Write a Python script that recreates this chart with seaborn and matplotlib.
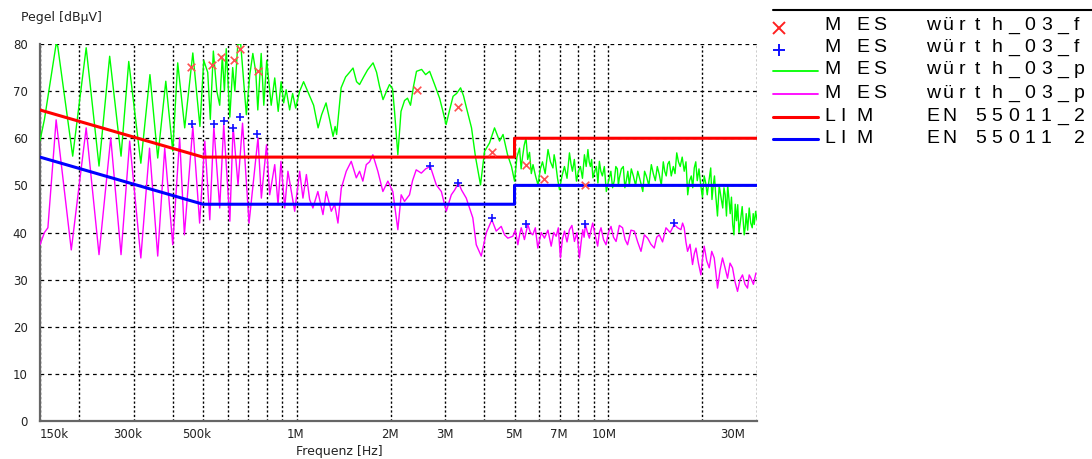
import matplotlib
matplotlib.use("Agg")
import matplotlib.pyplot as plt
import matplotlib.transforms as mtransforms
import seaborn as sns

# measured trace (peak) - frequency in MHz, level in dBuV
GREEN_MHZ = [0.150, 0.155, 0.169, 0.171, 0.191, 0.211, 0.232, 0.251, 0.273, 0.289,
             0.316, 0.338, 0.358, 0.380, 0.400, 0.415, 0.437, 0.464, 0.489, 0.503,
             0.518, 0.528, 0.540, 0.554, 0.566, 0.577, 0.586, 0.594, 0.610, 0.623,
             0.633, 0.647, 0.661, 0.689, 0.707, 0.723, 0.739, 0.750, 0.769, 0.784,
             0.801, 0.828, 0.850, 0.872, 0.891, 0.908, 0.925, 0.949, 0.970, 0.992,
             1.022, 1.052, 1.100, 1.133, 1.171, 1.202, 1.242, 1.275, 1.308, 1.328,
             1.343, 1.388, 1.435, 1.478, 1.516, 1.556, 1.591, 1.639, 1.688, 1.758,
             1.804, 1.844, 1.892, 1.942, 1.985, 2.030, 2.060, 2.111, 2.161, 2.218,
             2.267, 2.318, 2.370, 2.423, 2.517, 2.592, 2.670, 2.770, 2.874, 2.938,
             3.016, 3.095, 3.175, 3.259, 3.356, 3.430, 3.507, 3.639, 3.748, 3.889,
             4.006, 4.156, 4.313, 4.476, 4.593, 4.749, 4.890,
             5.000, 5.09, 5.188, 5.25, 5.304, 5.37, 5.443, 5.51, 5.586, 5.66,
             5.732, 5.84, 5.947, 6.05, 6.148, 6.27, 6.403, 6.52, 6.642, 6.70,
             6.766, 6.87, 6.969, 7.10, 7.231, 7.37, 7.503, 7.59, 7.670, 7.78,
             7.900, 8.02, 8.137, 8.26, 8.381, 8.49, 8.600, 8.68, 8.758, 8.84,
             8.921, 9.04, 9.154, 9.26, 9.359, 9.46, 9.569, 9.71, 9.853, 10.02,
             10.19, 10.32, 10.45, 10.57, 10.69, 10.77, 10.85, 11.01, 11.17, 11.30,
             11.42, 11.55, 11.68, 11.85, 12.03, 12.23, 12.43, 12.66, 12.90, 13.07,
             13.24, 13.49, 13.74, 13.94, 14.15, 14.36, 14.57, 14.79, 15.01, 15.17,
             15.34, 15.51, 15.69, 15.92, 16.16, 16.37, 16.58, 16.79, 17.01, 17.26,
             17.52, 17.75, 17.98, 18.22, 18.46, 18.66, 18.87, 19.08, 19.29, 19.54,
             19.79, 20.05, 20.31, 20.54, 20.77, 21.04, 21.31, 21.51, 21.71, 21.91,
             22.11, 22.40, 22.69, 22.99, 23.29, 23.50, 23.72, 23.94, 24.16, 24.38,
             24.61, 24.84, 25.07, 25.30, 25.54, 25.78, 26.02, 26.26, 26.50, 26.89,
             27.29, 27.49, 27.70, 28.00, 28.32, 28.64, 28.96, 29.17, 29.39, 29.70,
             30.00]
GREEN_DB = [59.5, 64.0, 80.0, 79.5, 56.2, 79.2, 54.1, 77.4, 56.2, 76.3,
            54.7, 73.5, 55.8, 72.1, 57.3, 76.0, 62.2, 78.1, 62.5, 76.5,
            74.0, 64.0, 78.5, 70.0, 67.0, 77.5, 70.0, 79.0, 64.5, 75.0,
            70.0, 80.0, 80.0, 65.0, 73.5, 78.0, 74.0, 66.0, 78.0, 67.0,
            76.5, 67.0, 72.8, 65.7, 72.0, 67.5, 70.3, 66.0, 69.5, 66.4,
            70.0, 72.0, 69.0, 67.0, 62.2, 65.0, 67.5, 64.0, 60.4, 62.5,
            60.8, 70.7, 73.0, 74.0, 74.9, 72.0, 71.4, 73.0, 74.5, 76.0,
            74.0, 71.0, 68.2, 70.0, 71.4, 70.5, 65.7, 56.5, 65.7, 68.0,
            68.5, 67.0, 71.0, 74.2, 74.6, 73.5, 74.2, 71.4, 68.5, 66.0,
            62.9, 66.0, 68.9, 69.5, 70.7, 69.0, 66.4, 62.2, 56.0, 50.1,
            57.2, 59.0, 62.2, 59.4, 60.8, 56.5, 54.0,
            50.9, 56.0, 57.9, 53.5, 56.0, 58.5, 60.1, 55.5, 57.0, 52.5,
            54.4, 52.0, 50.1, 53.5, 55.0, 52.5, 57.6, 55.0, 53.7, 56.5,
            55.0, 51.5, 49.1, 52.0, 54.0, 51.5, 56.9, 54.5, 53.0, 55.5,
            50.9, 53.0, 54.0, 51.5, 56.5, 54.0, 57.6, 55.0, 54.0, 55.5,
            51.6, 53.0, 54.0, 50.5, 55.1, 53.0, 52.0, 54.0, 48.7, 51.0,
            53.0, 49.5, 51.0, 54.0, 53.5, 50.0, 51.6, 53.5, 54.0, 49.5,
            51.0, 53.0, 50.1, 53.5, 52.0, 50.0, 53.0, 51.0, 48.7, 53.0,
            52.0, 50.0, 54.4, 52.5, 51.0, 54.0, 52.3, 50.0, 55.0, 53.0,
            52.0, 54.5, 55.1, 52.0, 54.0, 52.5, 56.9, 55.0, 54.0, 56.0,
            53.0, 55.0, 48.0, 51.0, 52.0, 49.5, 53.7, 55.0, 51.0, 53.5,
            50.1, 47.5, 52.0, 50.5, 48.0, 51.0, 53.7, 47.0, 50.0, 52.0,
            48.0, 43.5, 50.0, 47.5, 45.2, 49.5, 48.0, 43.5, 50.1, 47.0,
            44.0, 47.5, 41.7, 39.5, 46.0, 42.5, 45.9, 40.0, 42.0, 45.5,
            39.5, 41.0, 44.0, 40.5, 45.2, 42.0, 41.0, 44.0, 41.7, 44.5,
            42.7]

# measured trace (average)
MAGENTA_MHZ = [0.150, 0.155, 0.159, 0.169, 0.189, 0.211, 0.232, 0.253, 0.273, 0.291,
               0.316, 0.337, 0.358, 0.377, 0.400, 0.421, 0.436, 0.464, 0.488, 0.507,
               0.526, 0.542, 0.566, 0.583, 0.610, 0.625, 0.648, 0.670, 0.703, 0.751,
               0.770, 0.800, 0.819, 0.850, 0.871, 0.890, 0.915, 0.937, 0.985, 1.022,
               1.047, 1.074, 1.100, 1.127, 1.169, 1.214, 1.244, 1.291, 1.323, 1.356,
               1.390, 1.442, 1.496, 1.553, 1.591, 1.630, 1.672, 1.713, 1.755, 1.821,
               1.890, 1.961, 2.034, 2.111, 2.164, 2.218, 2.301, 2.353, 2.418, 2.511,
               2.592, 2.684, 2.805, 2.911, 3.020, 3.134, 3.211, 3.307, 3.381, 3.500,
               3.674, 3.768, 3.910, 4.056, 4.228, 4.367, 4.532, 4.644, 4.759, 4.937,
               5.03, 5.124, 5.19, 5.254, 5.38, 5.516, 5.62, 5.723, 5.83, 5.938,
               6.09, 6.239, 6.40, 6.555, 6.68, 6.801, 6.91, 7.020, 7.12, 7.231,
               7.37, 7.503, 7.64, 7.785, 7.93, 8.077, 8.18, 8.276, 8.36, 8.443,
               8.57, 8.693, 8.80, 8.907, 9.07, 9.242, 9.36, 9.475, 9.65, 9.832,
               10.01, 10.20, 10.39, 10.59, 10.85, 11.11, 11.32, 11.53, 11.82, 12.12,
               12.42, 12.73, 13.05, 13.37, 13.70, 14.04, 14.30, 14.57, 14.93, 15.31,
               15.79, 16.28, 16.69, 17.10, 17.31, 17.52, 17.74, 17.96, 18.29, 18.63,
               18.87, 19.11, 19.46, 19.82, 20.06, 20.31, 20.69, 21.08, 21.47, 21.87,
               22.14, 22.41, 22.83, 23.25, 23.69, 24.13, 24.58, 25.04, 25.51, 25.98,
               26.46, 26.95, 27.46, 27.97, 28.32, 28.68, 29.22, 29.76]
MAGENTA_DB = [37.4, 40.0, 41.0, 63.9, 36.3, 62.2, 35.3, 60.1, 35.3, 59.4,
              34.6, 57.9, 35.0, 57.9, 37.4, 60.1, 39.5, 62.5, 42.0, 59.4,
              42.7, 62.5, 45.2, 62.9, 42.4, 62.5, 50.1, 63.2, 42.0, 60.1,
              47.3, 58.6, 48.0, 54.4, 45.9, 55.1, 45.2, 53.0, 44.5, 53.0,
              47.3, 52.3, 47.0, 45.2, 48.7, 43.8, 48.7, 44.5, 46.0, 42.0,
              49.4, 53.0, 55.1, 51.6, 53.0, 50.9, 54.4, 55.0, 56.5, 53.0,
              48.7, 50.9, 48.7, 40.6, 48.0, 46.6, 48.0, 51.0, 53.3, 52.6,
              53.5, 54.0, 50.1, 48.7, 44.5, 48.0, 49.0, 50.5, 49.0, 47.3,
              43.1, 37.4, 35.0, 39.9, 42.7, 40.3, 41.3, 39.5, 38.8, 39.2,
              40.5, 37.4, 39.5, 41.0, 38.5, 41.7, 40.0, 39.5, 41.0, 36.7,
              40.0, 38.8, 40.5, 37.1, 40.0, 39.2, 41.0, 34.6, 38.5, 40.3,
              38.0, 40.6, 41.5, 38.1, 40.0, 34.6, 38.0, 40.6, 39.0, 41.7,
              40.0, 38.8, 40.5, 42.0, 39.5, 37.1, 40.0, 41.0, 38.5, 37.4,
              40.0, 41.3, 39.0, 38.1, 41.5, 41.0, 38.5, 37.4, 40.5, 40.3,
              38.0, 36.0, 39.5, 38.8, 37.5, 36.7, 39.0, 39.5, 38.0, 41.0,
              40.0, 41.7, 41.0, 40.6, 42.0, 41.0, 38.0, 36.0, 37.5, 33.2,
              35.5, 36.7, 33.5, 31.0, 34.5, 37.1, 34.0, 32.5, 36.0, 34.6,
              31.5, 28.2, 32.0, 34.6, 32.5, 30.3, 33.5, 32.5, 29.5, 27.5,
              30.0, 31.0, 29.0, 28.2, 31.0, 30.3, 29.0, 31.4]

# final measurement points
FINAL_QP_MHZ = [0.457, 0.535, 0.573, 0.628, 0.658, 0.752, 2.44, 3.29, 4.23, 5.44, 6.23, 8.43]
FINAL_QP_DB = [75.1, 75.6, 77.3, 76.5, 78.9, 74.3, 70.2, 66.7, 57.0, 54.4, 51.4, 50.0]
FINAL_AV_MHZ = [0.462, 0.541, 0.583, 0.625, 0.660, 0.748, 2.67, 3.29, 4.23, 5.44, 8.40, 16.3]
FINAL_AV_DB = [63.0, 63.0, 63.7, 62.1, 64.5, 60.8, 54.1, 50.6, 43.1, 41.8, 41.9, 42.0]

# limit lines
LIM_MHZ = [0.15, 0.5, 5, 5, 30]
LIM_QP_DB = [66, 56, 56, 60, 60]
LIM_AV_DB = [56, 46, 46, 50, 50]

GRID_MHZ = [0.15, 0.2, 0.3, 0.4, 0.5, 0.6, 0.7, 0.8, 0.9, 1, 2, 3, 4, 5, 6, 7, 8, 9, 10, 20, 30]
TICK_TEXT = {0.15: "150k", 0.3: "300k", 0.5: "500k", 1: "1M", 2: "2M", 3: "3M",
             5: "5M", 7: "7M", 10: "10M", 30: "30M"}
Y_TICKS = [0, 10, 20, 30, 40, 50, 60, 70, 80]

LEGEND_ROWS = [("x", "M ES", "würth_03_f"),
               ("+", "M ES", "würth_03_f"),
               ("green", "M ES", "würth_03_p"),
               ("magenta", "M ES", "würth_03_p"),
               ("red", "LIM", "EN 55011_2"),
               ("blue", "LIM", "EN 55011_2")]


def spaced(ax, x, y, s, size=14):
    # legend text is drawn with a fixed advance per character
    for i, ch in enumerate(s):
        ax.text(x + i * 16.4, y, ch, fontsize=size, ha="left", va="center",
                color="black", clip_on=True, family=["Liberation Sans", "DejaVu Sans"])


def main():
    sns.set_style("white")
    plt.rcParams['font.family'] = ['DejaVu Sans']
    W, H = 1092, 459
    fig = plt.figure(figsize=(W / 100, H / 100), dpi=100)
    ax = fig.add_axes([40 / W, 1 - 421 / H, (757 - 40) / W, (421 - 44) / H])
    ax.set_xscale("log")

    sns.lineplot(x=GREEN_MHZ, y=GREEN_DB, ax=ax, color="#00ff00", lw=1.0,
                 sort=False, estimator=None, zorder=3)
    sns.lineplot(x=MAGENTA_MHZ, y=MAGENTA_DB, ax=ax, color="#ff00ff", lw=1.0,
                 sort=False, estimator=None, zorder=3)
    sns.lineplot(x=LIM_MHZ, y=LIM_QP_DB, ax=ax, color="#ff0000", lw=2.2,
                 sort=False, estimator=None, zorder=4)
    sns.lineplot(x=LIM_MHZ, y=LIM_AV_DB, ax=ax, color="#0000ff", lw=2.2,
                 sort=False, estimator=None, zorder=4)
    sns.scatterplot(x=FINAL_QP_MHZ, y=FINAL_QP_DB, ax=ax, marker="x", color="#ff5050",
                    s=30, linewidth=1.2, zorder=5)
    sns.scatterplot(x=FINAL_AV_MHZ, y=FINAL_AV_DB, ax=ax, marker="+", color="#1010ff",
                    s=30, linewidth=1.2, zorder=5)

    ax.set_xlim(0.15, 30)
    ax.set_ylim(0, 80)
    ax.set_xticks(GRID_MHZ)
    ax.set_xticklabels([TICK_TEXT.get(f, "") for f in GRID_MHZ])
    ax.xaxis.set_minor_locator(matplotlib.ticker.NullLocator())
    ax.set_yticks(Y_TICKS)
    ax.set_yticklabels([str(v) for v in Y_TICKS])
    ax.tick_params(axis="x", length=0, pad=5, labelsize=8.5, colors="#222222")
    ax.tick_params(axis="y", length=0, pad=9, labelsize=8.5, colors="#222222")
    ax.set_xlabel("")
    ax.set_ylabel("")

    # tick label placement like the original plot
    for f, lab in zip(GRID_MHZ, ax.get_xticklabels()):
        txt = TICK_TEXT.get(f, "")
        if txt == "150k":
            lab.set_ha("left")
            dx = 0
        elif txt == "30M":
            lab.set_ha("right")
            dx = -12
        else:
            lab.set_ha("right")
            dx = 8
        lab.set_transform(lab.get_transform() +
                          mtransforms.ScaledTranslation(dx / 100, 0, fig.dpi_scale_trans))

    ax.set_axisbelow(True)
    ax.grid(axis="x", color="black", linestyle=(0, (1.6, 1.6)), lw=1.0)
    ax.grid(axis="y", color="black", linestyle=(0, (3, 3)), lw=0.9)
    for side in ["top", "right"]:
        ax.spines[side].set_visible(False)
    for side in ["left", "bottom"]:
        ax.spines[side].set_color("#666666")
        ax.spines[side].set_linewidth(1.6)

    fig.text(21 / W, 1 - 17 / H, "Pegel [dBµV]", fontsize=9, ha="left", va="center",
             color="#222222")
    fig.text(339 / W, 1 - 452 / H, "Frequenz [Hz]", fontsize=9, ha="center",
             va="center", color="#222222")

    # legend block on the right, cut off like the original
    lg = fig.add_axes([765 / W, 1 - 143 / H, (W - 765) / W, 143 / H])
    lg.set_xlim(765, W)
    lg.set_ylim(143, 0)
    lg.axis("off")
    lg.plot([773, W], [10, 10], color="black", lw=1.5)
    row_y = [27, 49, 71, 94, 117, 139]
    for (kind, name, desc), y in zip(LEGEND_ROWS, row_y):
        if kind == "x":
            lg.plot([779], [y + 1], marker="x", color="#ff2020", ms=8, mew=1.4)
        elif kind == "+":
            lg.plot([779], [y + 1], marker="+", color="#1010ff", ms=9, mew=1.4)
        else:
            color = {"green": "#00ff00", "magenta": "#ff00ff",
                     "red": "#ff0000", "blue": "#0000ff"}[kind]
            lw = 1.3 if kind in ("green", "magenta") else 2.2
            lg.plot([773, 818], [y, y], color=color, lw=lw)
        spaced(lg, 824, y - 1, name)
        spaced(lg, 926, y - 1, desc)

    fig.savefig("out.png", dpi=100)


if __name__ == "__main__":
    main()
